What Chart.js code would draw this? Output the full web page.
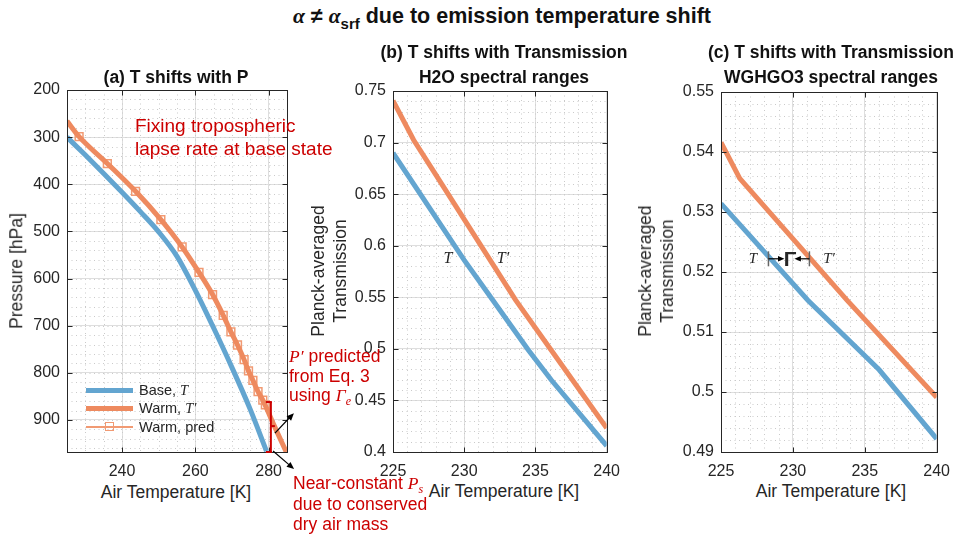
<!DOCTYPE html>
<html>
<head>
<meta charset="utf-8">
<script src="https://cdn.jsdelivr.net/npm/chart.js"></script>
<style>
  body { margin: 0; width: 960px; height: 536px; background: #fff; position: relative; overflow: hidden;
         font-family: "Liberation Sans", Arial, sans-serif; color: #262626; }
  .box { position: absolute; }
  .t { position: absolute; white-space: nowrap; line-height: 1; }
  .c { transform: translate(-50%, -50%); }
  .l { transform: translate(0, -50%); }
  .rot { transform: translate(-50%, -50%) rotate(-90deg); text-align: center; }
  .ttl { font-weight: bold; font-size: 17.5px; color: #111; }
  .lab { font-size: 17.5px; }
  .red { color: #cc0000; }
  .m { font-family: "Liberation Serif", "Times New Roman", serif; font-style: italic; }
  .sw { position: absolute; }
</style>
</head>
<body>

<div class="box" style="left:0;top:60px;width:300px;height:420px"><canvas id="chartA" width="300" height="420"></canvas></div>
<div class="box" style="left:300px;top:60px;width:330px;height:420px"><canvas id="chartB" width="330" height="420"></canvas></div>
<div class="box" style="left:630px;top:60px;width:330px;height:420px"><canvas id="chartC" width="330" height="420"></canvas></div>

<!-- titles -->
<div class="t c" style="left:502px;top:17px;font-weight:bold;font-size:21.5px;color:#111">
  <span class="m" style="font-weight:bold">α</span> ≠ <span class="m" style="font-weight:bold">α</span><span style="font-size:15px;position:relative;top:6px">srf</span> due to emission temperature shift
</div>
<div class="t c ttl" style="left:176px;top:78px">(a) T shifts with P</div>
<div class="t c ttl" style="left:504px;top:53px">(b) T shifts with Transmission</div>
<div class="t c ttl" style="left:504px;top:78px">H2O spectral ranges</div>
<div class="t c ttl" style="left:831px;top:53px">(c) T shifts with Transmission</div>
<div class="t c ttl" style="left:831px;top:78px">WGHGO3 spectral ranges</div>

<!-- axis labels -->
<div class="t rot lab" style="left:17px;top:271px">Pressure [hPa]</div>
<div class="t c lab" style="left:176px;top:493px">Air Temperature [K]</div>
<div class="t c lab" style="left:504px;top:492px">Air Temperature [K]</div>
<div class="t c lab" style="left:831px;top:492px">Air Temperature [K]</div>
<div class="t rot lab" style="left:329px;top:271px;line-height:22px">Planck-averaged<br>Transmission</div>
<div class="t rot lab" style="left:656px;top:271px;line-height:22px">Planck-averaged<br>Transmission</div>

<!-- legend of panel (a) -->
<div class="sw" style="left:86px;top:388px;width:47px;height:5px;background:#63a5d0"></div>
<div class="sw" style="left:86px;top:406px;width:47px;height:5px;background:#ee8a5f"></div>
<div class="sw" style="left:86px;top:426px;width:47px;height:2px;background:#f19a73"></div>
<div class="sw" style="left:105px;top:422px;width:7px;height:7px;border:1.5px solid #f19a73"></div>
<div class="t l" style="left:139px;top:390px;font-size:14.5px">Base, <span class="m">T</span></div>
<div class="t l" style="left:139px;top:408px;font-size:14.5px">Warm, <span class="m">T′</span></div>
<div class="t l" style="left:139px;top:427px;font-size:14.5px">Warm, pred</div>

<!-- red notes -->
<div class="t l red" style="left:135px;top:125px;font-size:19px">Fixing tropospheric</div>
<div class="t l red" style="left:135px;top:148px;font-size:19px">lapse rate at base state</div>
<div class="t l red" style="left:289px;top:357px;font-size:17.5px"><span class="m">P′</span> predicted</div>
<div class="t l red" style="left:289px;top:377px;font-size:17.5px">from Eq. 3</div>
<div class="t l red" style="left:289px;top:397px;font-size:17.5px">using <span class="m">Γ<sub style="font-size:12px">e</sub></span></div>
<div class="t l red" style="left:293px;top:485px;font-size:17.5px">Near-constant <span class="m">P<sub style="font-size:12px">s</sub></span></div>
<div class="t l red" style="left:293px;top:505px;font-size:17.5px">due to conserved</div>
<div class="t l red" style="left:293px;top:525px;font-size:17.5px">dry air mass</div>

<!-- curve labels -->
<div class="t c m" style="left:448px;top:258px;font-size:16px">T</div>
<div class="t c m" style="left:503px;top:258px;font-size:16px">T′</div>
<div class="t c m" style="left:753px;top:258px;font-size:15px">T</div>
<div class="t c" style="left:790px;top:258px;font-size:21px;font-weight:bold">Γ</div>
<div class="t c m" style="left:829px;top:258px;font-size:15px">T′</div>

<script>
// ---- panel (a): temperature vs pressure ----
const baseTempA = [225, 230, 235, 240, 245, 250, 255, 260, 265, 270, 275, 279.4];
const basePresA = [300, 338, 377, 417, 458, 501, 553, 625, 705, 789, 878, 966];
const warmTempA = [225, 228.3, 236.0, 243.7, 250.6, 256.4, 261.0, 264.7, 267.6, 269.7, 271.5, 273.3, 274.5, 275.7, 277.1, 278.4, 281.5, 284.8];
const warmPresA = [266, 299, 356, 415, 475, 533, 587, 634, 678, 713, 741, 772, 796, 816, 840, 858, 912, 968];
const predTempA = [228.3, 236.0, 243.7, 250.6, 256.4, 261.0, 264.7, 267.6, 269.7, 271.5, 273.3, 274.5, 275.7, 277.1, 278.4, 279.1];
const predPresA = [299, 356, 415, 475, 533, 587, 634, 678, 713, 741, 772, 796, 816, 840, 858, 868];
const xTicksA = [240, 260, 280];
const yTicksA = [200, 300, 400, 500, 600, 700, 800, 900];
const bracketT = 280.6;
const bracketP = [862, 968, 913];

// ---- panel (b): H2O transmission ----
const baseTempB = [225, 230, 232, 234.5, 236.1, 240];
const baseTransB = [0.690, 0.586, 0.5474, 0.4989, 0.470, 0.406];
const warmTempB = [225, 226.45, 228, 230, 232, 233.6, 236, 238, 240];
const warmTransB = [0.7406, 0.7025, 0.669, 0.6255, 0.5821, 0.5474, 0.5008, 0.462, 0.4232];
const yTicksB = [0.4, 0.45, 0.5, 0.55, 0.6, 0.65, 0.7, 0.75];

// ---- panel (c): WGHGO3 transmission ----
const baseTempC = [225, 231.04, 236.0, 240];
const baseTransC = [0.5314, 0.5153, 0.5037, 0.4922];
const warmTempC = [225, 226.3, 233.76, 240];
const warmTransC = [0.5416, 0.5356, 0.5153, 0.4991];
const yTicksC = [0.49, 0.50, 0.51, 0.52, 0.53, 0.54, 0.55];
const shiftT = [228.3, 231.15];
const shiftLevel = 0.5222;

const xTicksBC = [225, 230, 235, 240];

const BLUE = '#63a5d0';
const ORANGE = '#ee8a5f';
const ORANGE_LIGHT = '#f19a73';
const AXIS = '#262626';
const tickFont = { family: '"Liberation Sans", Arial, sans-serif', size: 16 };

function pts(xs, ys) {
  return xs.map((v, i) => ({ x: v, y: ys[i] }));
}

function line(ctx, x1, y1, x2, y2) {
  ctx.beginPath();
  ctx.moveTo(x1, y1);
  ctx.lineTo(x2, y2);
  ctx.stroke();
}

function arrow(ctx, x1, y1, x2, y2, head) {
  const ang = Math.atan2(y2 - y1, x2 - x1);
  line(ctx, x1, y1, x2 - Math.cos(ang) * head * 0.8, y2 - Math.sin(ang) * head * 0.8);
  ctx.beginPath();
  ctx.moveTo(x2, y2);
  ctx.lineTo(x2 - head * Math.cos(ang - 0.4), y2 - head * Math.sin(ang - 0.4));
  ctx.lineTo(x2 - head * Math.cos(ang + 0.4), y2 - head * Math.sin(ang + 0.4));
  ctx.closePath();
  ctx.fill();
}

function minorValues(scale, step) {
  const out = [];
  const start = Math.ceil(scale.min / step - 1e-6);
  const end = Math.floor(scale.max / step + 1e-6);
  for (let k = start; k <= end; k++) out.push(k * step);
  return out;
}

// matlab-ish box: dotted minor grid, frame and inward ticks
const matlabBox = {
  id: 'matlabBox',
  beforeDatasetsDraw(chart, args, opts) {
    const { ctx, chartArea: a, scales: { x, y } } = chart;
    ctx.save();
    ctx.strokeStyle = '#cacaca';
    ctx.lineWidth = 1;
    ctx.setLineDash([1, 3.5]);
    minorValues(x, opts.minorX).forEach(v => {
      const p = Math.round(x.getPixelForValue(v)) + 0.5;
      line(ctx, p, a.top, p, a.bottom);
    });
    minorValues(y, opts.minorY).forEach(v => {
      const p = Math.round(y.getPixelForValue(v)) + 0.5;
      line(ctx, a.left, p, a.right, p);
    });
    ctx.restore();
  },
  afterDatasetsDraw(chart) {
    const { ctx, chartArea: a, scales: { x, y } } = chart;
    ctx.save();
    ctx.strokeStyle = AXIS;
    ctx.lineWidth = 1;
    const L = Math.round(a.left) + 0.5, R = Math.round(a.right) + 0.5;
    const T = Math.round(a.top) + 0.5, B = Math.round(a.bottom) + 0.5;
    ctx.strokeRect(L, T, R - L, B - T);
    x.ticks.forEach(t => {
      const p = Math.round(x.getPixelForValue(t.value)) + 0.5;
      line(ctx, p, B, p, B - 5);
      line(ctx, p, T, p, T + 5);
    });
    y.ticks.forEach(t => {
      const p = Math.round(y.getPixelForValue(t.value)) + 0.5;
      line(ctx, L, p, L + 5, p);
      line(ctx, R, p, R - 5, p);
    });
    ctx.restore();
  }
};

// red bracket and arrows near the surface in (a)
const surfaceMarks = {
  id: 'surfaceMarks',
  afterDatasetsDraw(chart) {
    const { ctx, scales: { x, y } } = chart;
    const bx = x.getPixelForValue(bracketT);
    const yt = y.getPixelForValue(bracketP[0]);
    const yb = y.getPixelForValue(bracketP[1]);
    const ym = y.getPixelForValue(bracketP[2]);
    ctx.save();
    ctx.strokeStyle = '#cc0000';
    ctx.lineWidth = 2;
    line(ctx, bx, yt, bx, yb);
    line(ctx, bx - 5, yt, bx + 1, yt);
    line(ctx, bx - 5, yb, bx + 1, yb);
    line(ctx, bx, ym, bx + 4, ym);
    ctx.strokeStyle = '#000';
    ctx.fillStyle = '#000';
    ctx.lineWidth = 1.2;
    const ax = x.getPixelForValue(281.7), ay = y.getPixelForValue(928);
    arrow(ctx, ax, ay, ax + 19, ay - 20, 8);
    const bx2 = x.getPixelForValue(281.2), by2 = y.getPixelForValue(966);
    arrow(ctx, bx2, by2, bx2 + 21, by2 + 18, 8);
    ctx.restore();
  }
};

// |-> Gamma <-| marks in (c)
const shiftMarks = {
  id: 'shiftMarks',
  afterDatasetsDraw(chart) {
    const { ctx, scales: { x, y } } = chart;
    const yy = y.getPixelForValue(shiftLevel);
    const x1 = x.getPixelForValue(shiftT[0]);
    const x2 = x.getPixelForValue(shiftT[1]);
    ctx.save();
    ctx.strokeStyle = '#666';
    ctx.lineWidth = 1.5;
    line(ctx, x1, yy - 7.5, x1, yy + 7.5);
    line(ctx, x2, yy - 7.5, x2, yy + 7.5);
    ctx.strokeStyle = '#000';
    ctx.fillStyle = '#000';
    ctx.lineWidth = 1.2;
    arrow(ctx, x1, yy, x1 + 16, yy, 7);
    arrow(ctx, x2, yy, x2 - 15, yy, 7);
    ctx.restore();
  }
};

function makeChart(id, o) {
  const lineDs = (data, color, width) => ({
    data, borderColor: color, borderWidth: width, pointRadius: 0, fill: false, clip: 0,
    cubicInterpolationMode: o.smooth ? 'monotone' : 'default', tension: 0
  });
  const datasets = [lineDs(o.base, BLUE, 5), lineDs(o.warm, ORANGE, 5)];
  if (o.pred) {
    datasets.push({
      data: o.pred, borderColor: ORANGE_LIGHT, borderWidth: 2, fill: false, clip: 0, tension: 0,
      pointStyle: 'rect', pointRadius: 5.5, pointBorderWidth: 1.5,
      pointBorderColor: ORANGE_LIGHT, pointBackgroundColor: 'rgba(0,0,0,0)'
    });
  }
  return new Chart(document.getElementById(id), {
    type: 'line',
    data: { datasets },
    options: {
      responsive: false,
      animation: false,
      devicePixelRatio: 1,
      layout: { padding: { left: 0, right: o.padR, top: o.padT, bottom: 0 } },
      plugins: { legend: { display: false }, tooltip: { enabled: false }, matlabBox: { minorX: o.minorX, minorY: o.minorY } },
      scales: {
        x: {
          type: 'linear', min: o.xMin, max: o.xMax,
          afterBuildTicks: s => { s.ticks = o.xTicks.map(v => ({ value: v })); },
          afterFit: s => { s.height = 28; },
          grid: { color: '#dedede', drawTicks: false },
          border: { display: false },
          ticks: { font: tickFont, color: AXIS, padding: 10, maxRotation: 0 }
        },
        y: {
          type: 'linear', min: o.yMin, max: o.yMax, reverse: !!o.reverse,
          afterBuildTicks: s => { s.ticks = o.yTicks.map(v => ({ value: v })); },
          afterFit: s => { s.width = o.yW; },
          grid: { color: '#dedede', drawTicks: false },
          border: { display: false },
          ticks: { font: tickFont, color: AXIS, padding: 7, callback: v => String(+v.toFixed(2)) }
        }
      }
    },
    plugins: [matlabBox].concat(o.extra || [])
  });
}

makeChart('chartA', {
  base: pts(baseTempA, basePresA), warm: pts(warmTempA, warmPresA), pred: pts(predTempA, predPresA),
  smooth: true, reverse: true,
  xMin: 225, xMax: 285, yMin: 200, yMax: 968, xTicks: xTicksA, yTicks: yTicksA,
  minorX: 5, minorY: 20, yW: 67, padR: 13, padT: 30, extra: [surfaceMarks]
});

makeChart('chartB', {
  base: pts(baseTempB, baseTransB), warm: pts(warmTempB, warmTransB),
  xMin: 225, xMax: 240, yMin: 0.4, yMax: 0.75, xTicks: xTicksBC, yTicks: yTicksB,
  minorX: 1, minorY: 0.01, yW: 93, padR: 15, padT: 31
});

makeChart('chartC', {
  base: pts(baseTempC, baseTransC), warm: pts(warmTempC, warmTransC),
  xMin: 225, xMax: 240, yMin: 0.49, yMax: 0.55, xTicks: xTicksBC, yTicks: yTicksC,
  minorX: 1, minorY: 0.002, yW: 91, padR: 18, padT: 32, extra: [shiftMarks]
});
</script>
</body>
</html>
